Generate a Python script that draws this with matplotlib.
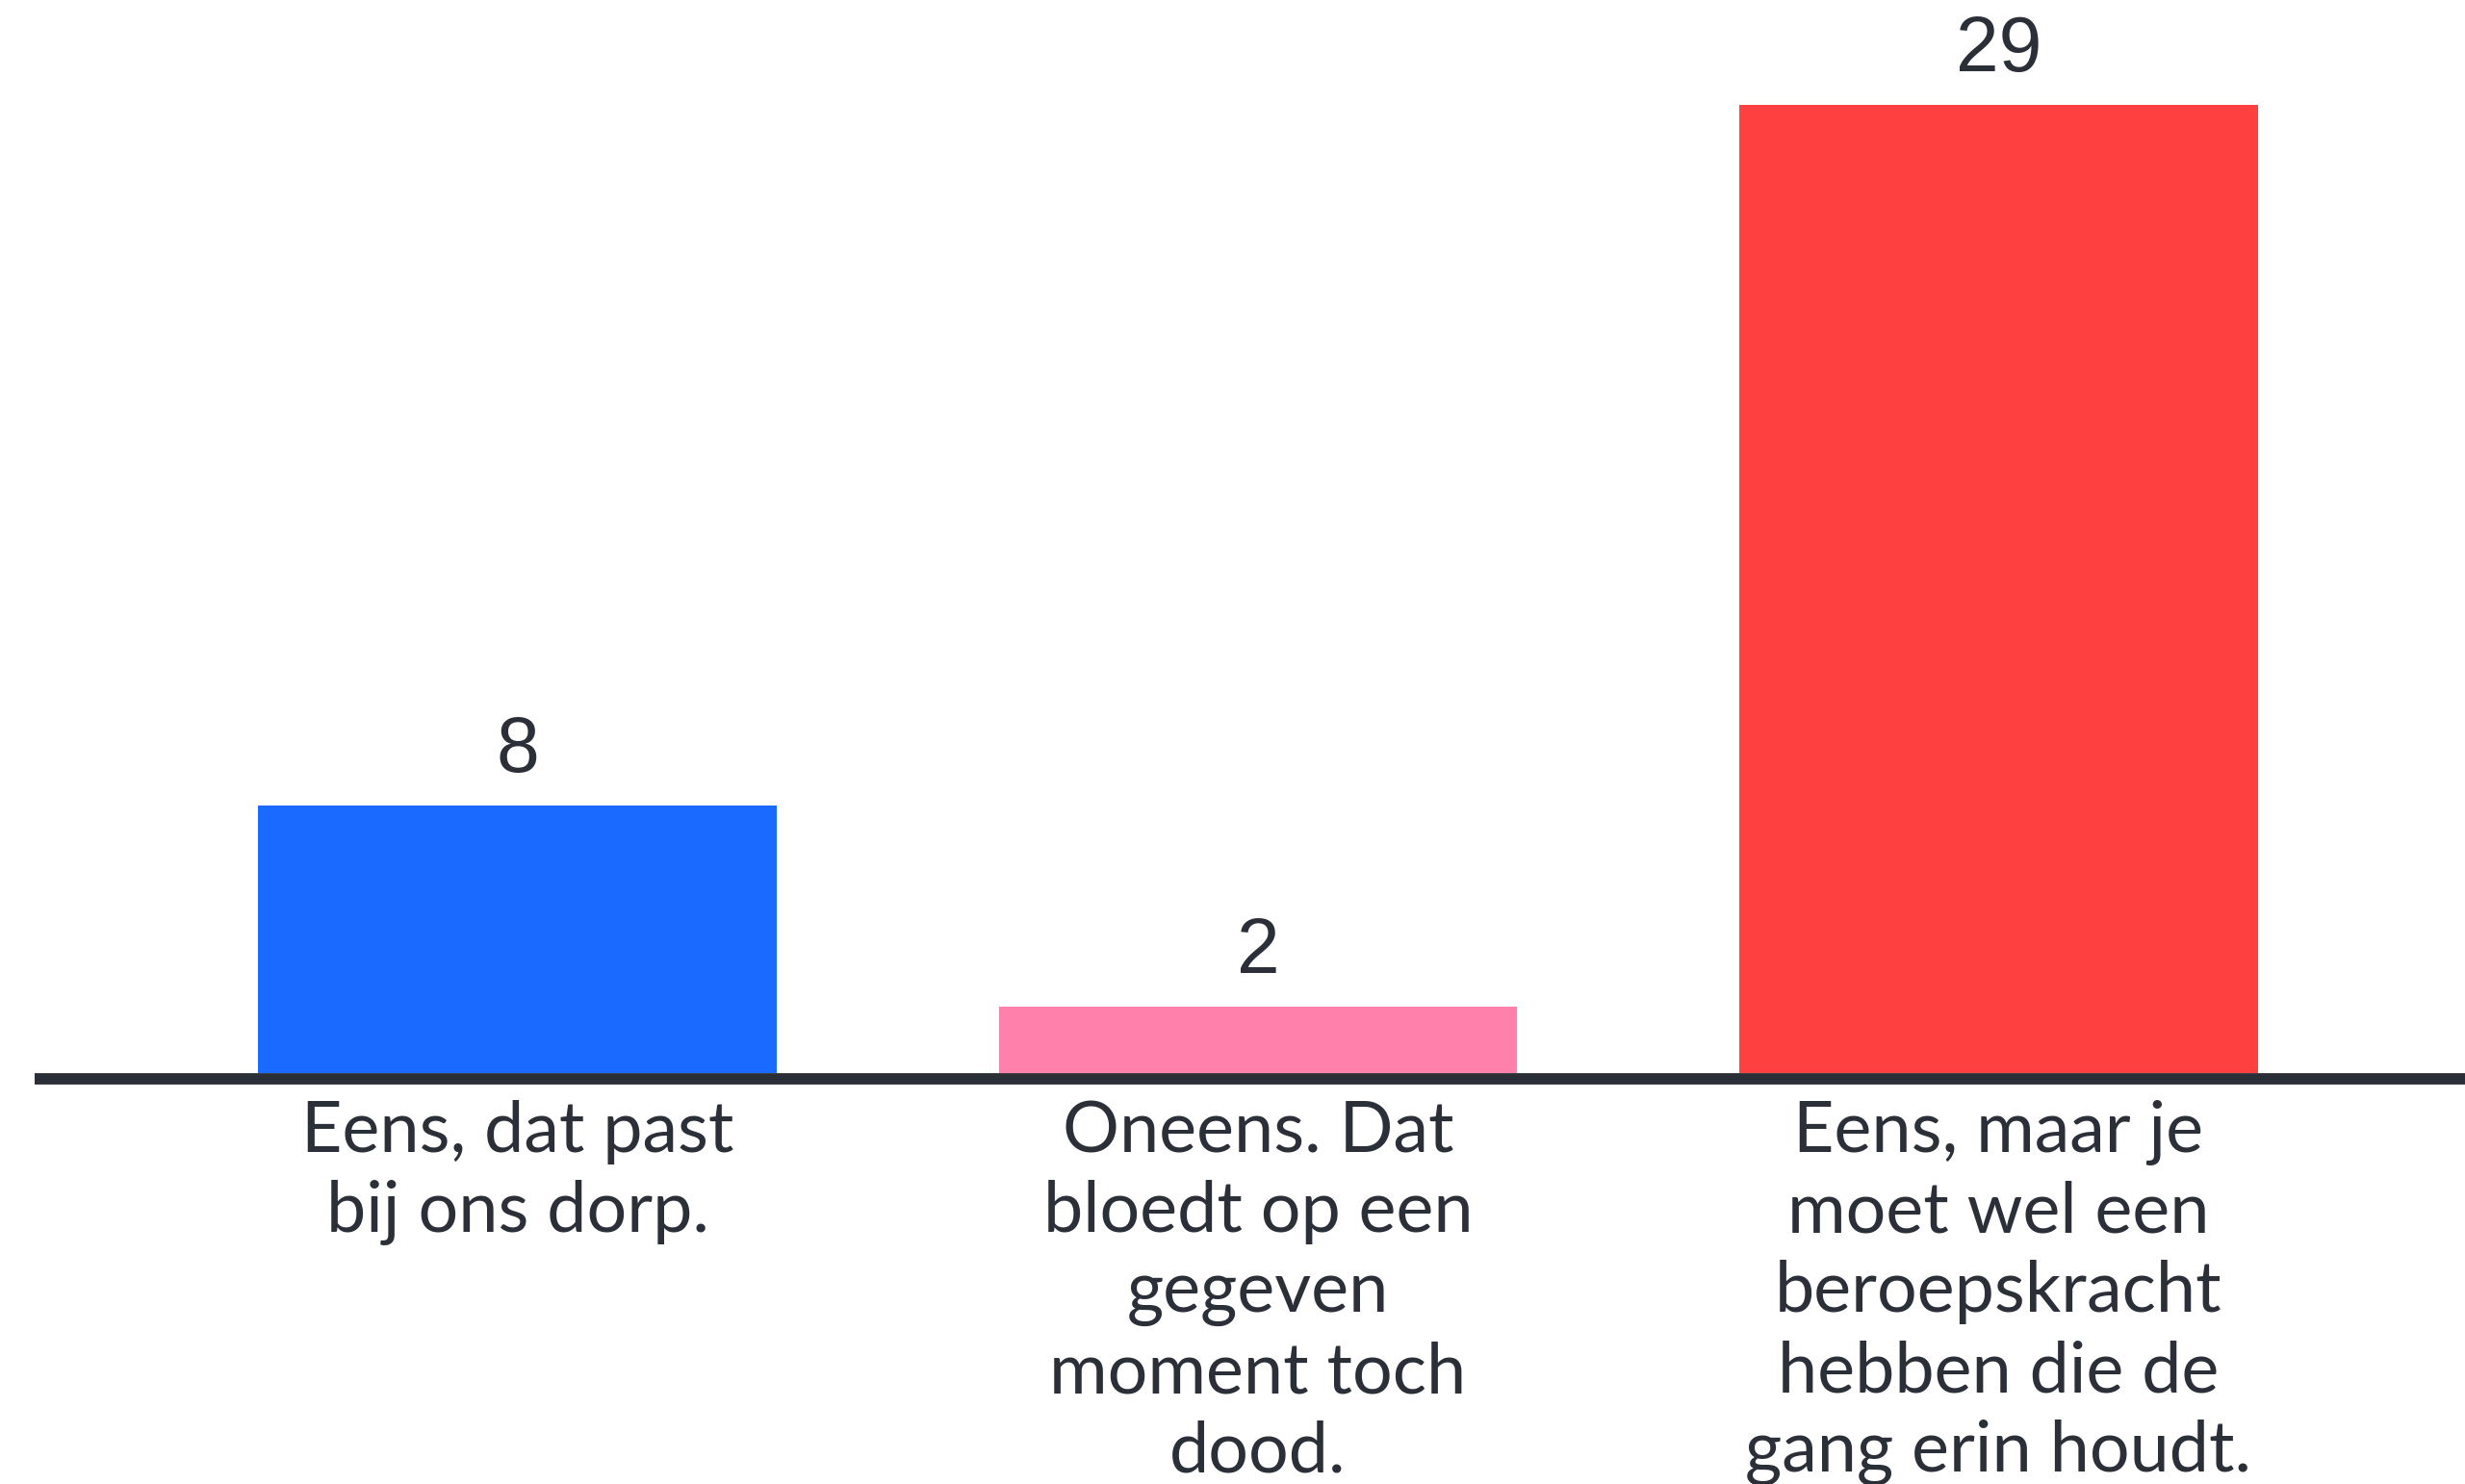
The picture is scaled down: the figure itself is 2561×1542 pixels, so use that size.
import matplotlib
matplotlib.use("Agg")
import matplotlib.pyplot as plt

categories = [
    "Eens, dat past\nbij ons dorp.",
    "Oneens. Dat\nbloedt op een\ngegeven\nmoment toch\ndood.",
    "Eens, maar je\nmoet wel een\nberoepskracht\nhebben die de\ngang erin houdt.",
]
values = [8, 2, 29]
colors = ["#1a6aff", "#ff80aa", "#ff4040"]

W, H, DPI = 2561, 1542, 100
fig = plt.figure(figsize=(W / DPI, H / DPI), dpi=DPI)
fig.patch.set_facecolor("white")

ax = fig.add_axes([36 / W, (H - 1115) / H, 1 - 36 / W, (1115 - 109) / H])
x = list(range(len(values)))
bars = ax.bar(x, values, width=0.70, color=colors, zorder=3)

ax.set_xlim(-0.652, 2.630)
ax.set_ylim(0, 29)

for s in ["top", "left", "right"]:
    ax.spines[s].set_visible(False)
ax.spines["bottom"].set_color("#2a2e36")
ax.spines["bottom"].set_linewidth(8.5)
ax.spines["bottom"].set_position(("outward", 4.2))
ax.spines["bottom"].set_capstyle("butt")
ax.set_yticks([])
ax.set_xticks(x)
ax.set_xticklabels(categories, fontsize=53, family=["Lato", "DejaVu Sans"],
                   color="#2b2f38", linespacing=1.29, va="top")
ax.tick_params(axis="x", length=0, pad=16)

for b, v in zip(bars, values):
    ax.annotate(str(v), (b.get_x() + b.get_width() / 2, v), xytext=(0, 13),
                textcoords="offset points", ha="center", va="bottom",
                fontsize=58, family=["Liberation Sans", "DejaVu Sans"],
                color="#2b2f38")

fig.savefig("out.png", dpi=DPI, facecolor="white")
